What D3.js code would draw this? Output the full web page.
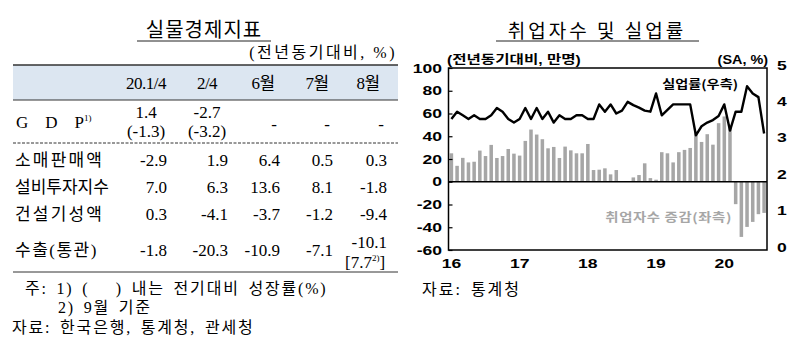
<!DOCTYPE html>
<html>
<head>
<meta charset="utf-8">
<script src="https://cdn.jsdelivr.net/npm/d3@7"></script>
<style>
  body { margin: 0; background: #fff; }
  svg { display: block; }
  text { white-space: pre; }
</style>
</head>
<body>
<div id="chart"></div>
<script>
// ---- table data (실물경제지표) ----
var colLabels = ["20.1/4", "2/4", "6월", "7월", "8월"];
var rowLabels = ["소매판매액", "설비투자지수", "건설기성액", "수출(통관)"];
var gdpValues = ["1.4", "-2.7", "-", "-", "-"];
var gdpQoQ = ["(-1.3)", "(-3.2)"];
var retailValues = ["-2.9", "1.9", "6.4", "0.5", "0.3"];
var facilityValues = ["7.0", "6.3", "13.6", "8.1", "-1.8"];
var constructionValues = ["0.3", "-4.1", "-3.7", "-1.2", "-9.4"];
var exportValues = ["-1.8", "-20.3", "-10.9", "-7.1", "-10.1"];

// ---- chart data (취업자수 및 실업률), 2016.1 ~ 2020.8 ----
var yearLabels = ["16", "17", "18", "19", "20"];
var employChange = [
  25, 14, 21, 17, 17.6, 27.4, 22.6, 32.4, 20.9, 22.6, 28.8, 24.7,
  23, 35.9, 45.9, 41.5, 37.4, 29.4, 30.6, 20.9, 30.9, 27.6, 25, 25,
  33.2, 10.3, 10.6, 11.8, 6.5, 10.3, 0.5, 0.3, 3.8, 5.9, 16.2, 3.2,
  1.8, 26, 25, 17, 26, 28, 29.7, 44, 35, 41.8, 32.6, 51.5,
  57.4, 49, -19.7, -48.5, -39.7, -35.3, -28.5, -27.4
];
var unemployRate = [
  3.6, 3.8, 3.7, 3.6, 3.7, 3.6, 3.6, 3.7, 3.9, 3.8, 3.6, 3.5,
  3.6, 3.9, 3.6, 3.9, 3.6, 3.8, 3.5, 3.7, 3.6, 3.6, 3.7, 3.7,
  3.6, 3.6, 4.0, 3.8, 4.0, 3.75, 3.83, 4.07, 3.98, 3.91, 3.83, 3.8,
  4.3, 3.7, 3.85, 4.0, 4.0, 4.0, 4.0, 3.15, 3.4, 3.5, 3.57, 3.68,
  4.0, 3.28, 3.8, 3.8, 4.5, 4.3, 4.2, 3.2
];
var leftTicks = [100, 80, 60, 40, 20, 0, -20, -40, -60];
var rightTicks = [5, 4, 3, 2, 1, 0];

var serif = "'Liberation Serif', 'Noto Sans CJK KR', serif";
var sans = "'Liberation Sans', 'Noto Sans CJK KR', sans-serif";
var kr = "'Noto Sans CJK KR', sans-serif";

var svg = d3.select("#chart").append("svg")
    .attr("width", 800)
    .attr("height", 344);

// text stretched horizontally like the scanned original
function wideText(g, x, y, sx, anchor, str) {
    return g.append("text")
        .attr("transform", "translate(" + x + "," + y + ") scale(" + sx + ",1)")
        .attr("text-anchor", anchor)
        .text(str);
}

// ================= LEFT: table =================
var table = svg.append("g");

table.append("text")
    .attr("x", 204).attr("y", 37)
    .attr("text-anchor", "middle")
    .style("font-family", kr).style("font-size", "20px")
    .style("letter-spacing", "1px")
    .text("실물경제지표");
table.append("line")
    .attr("x1", 137).attr("x2", 271).attr("y1", 41).attr("y2", 41)
    .attr("stroke", "#222").attr("stroke-width", 1);

table.append("text")
    .attr("x", 397).attr("y", 58)
    .attr("text-anchor", "end")
    .style("font-family", serif).style("font-size", "16px")
    .style("letter-spacing", "2.5px")
    .text("(전년동기대비, %)");

table.append("rect")
    .attr("x", 13).attr("y", 65).attr("width", 385).attr("height", 35)
    .attr("fill", "#dce6f1");
table.append("line")
    .attr("x1", 13).attr("x2", 398).attr("y1", 65).attr("y2", 65)
    .attr("stroke", "#333").attr("stroke-width", 1.5);
table.append("line")
    .attr("x1", 13).attr("x2", 398).attr("y1", 100).attr("y2", 100)
    .attr("stroke", "#333").attr("stroke-width", 1);

var headX = d3.scaleOrdinal().domain(colLabels).range([146, 207, 263, 317, 368]);
var colX = d3.scaleOrdinal().domain(d3.range(5)).range([167, 228, 280, 333, 387]);

table.selectAll(".head")
    .data(colLabels)
    .enter().append("text")
    .attr("x", function (d) { return headX(d); })
    .attr("y", 89)
    .attr("text-anchor", "middle")
    .style("font-family", serif).style("font-size", "17px")
    .style("letter-spacing", "-0.5px")
    .text(function (d) { return d; });

// GDP row
var gdpLabel = table.append("text")
    .attr("x", 16).attr("y", 128)
    .style("font-family", serif).style("font-size", "17px");
gdpLabel.append("tspan").text("G    D    P");
gdpLabel.append("tspan").attr("dy", -7).style("font-size", "9px").text("1)");

table.selectAll(".gdp")
    .data(gdpValues)
    .enter().append("text")
    .attr("x", function (d, i) { return i < 2 ? headX(colLabels[i]) : colX(i) - 3; })
    .attr("y", function (d, i) { return i < 2 ? 118 : 130; })
    .attr("text-anchor", function (d, i) { return i < 2 ? "middle" : "end"; })
    .style("font-family", serif).style("font-size", "17px")
    .text(function (d) { return d; });
table.selectAll(".gdpq")
    .data(gdpQoQ)
    .enter().append("text")
    .attr("x", function (d, i) { return headX(colLabels[i]); })
    .attr("y", 137)
    .attr("text-anchor", "middle")
    .style("font-family", serif).style("font-size", "17px")
    .text(function (d) { return d; });

table.append("line")
    .attr("x1", 13).attr("x2", 398).attr("y1", 143).attr("y2", 143)
    .attr("stroke", "#333").attr("stroke-width", 1)
    .attr("stroke-dasharray", "3,1.5");

var rows = [retailValues, facilityValues, constructionValues, exportValues];
var rowY = d3.scaleOrdinal().domain(rowLabels).range([166, 193, 220, 256]);
var rowSpacing = d3.scaleOrdinal().domain(rowLabels).range(["2.2px", "0px", "2.2px", "1.5px"]);

rowLabels.forEach(function (label, r) {
    table.append("text")
        .attr("x", 15).attr("y", rowY(label))
        .style("font-family", serif).style("font-size", "17px")
        .style("letter-spacing", rowSpacing(label))
        .text(label);
    table.selectAll(".row" + r)
        .data(rows[r])
        .enter().append("text")
        .attr("x", function (d, i) { return colX(i); })
        .attr("y", function (d, i) { return (r === 3 && i === 4) ? 248 : rowY(label); })
        .attr("text-anchor", "end")
        .style("font-family", serif).style("font-size", "17px")
        .text(function (d) { return d; });
});

var sept = table.append("text")
    .attr("x", 345).attr("y", 268)
    .style("font-family", serif).style("font-size", "17px");
sept.append("tspan").text("[7.7");
sept.append("tspan").attr("dy", -7).style("font-size", "9px").text("2)");
sept.append("tspan").attr("dy", 7).text("]");

table.append("line")
    .attr("x1", 13).attr("x2", 398).attr("y1", 272).attr("y2", 272)
    .attr("stroke", "#333").attr("stroke-width", 1);

var notes = table.append("g")
    .style("font-family", serif).style("font-size", "16px")
    .style("letter-spacing", "1.8px").style("word-spacing", "3px");
notes.append("text").attr("x", 25).attr("y", 294)
    .text("주: 1) (   ) 내는 전기대비 성장률(%)");
notes.append("text").attr("x", 58).attr("y", 313)
    .text("2) 9월 기준");
notes.append("text").attr("x", 12).attr("y", 333)
    .text("자료: 한국은행, 통계청, 관세청");

// ================= RIGHT: chart =================
var plot = { left: 448.5, right: 767, top: 68, bottom: 250 };
var months = d3.range(employChange.length);

var x = d3.scaleBand()
    .domain(months)
    .range([plot.left, plot.right])
    .paddingInner(0.38)
    .paddingOuter(0.2);
var yLeft = d3.scaleLinear().domain([-60, 100]).range([plot.bottom, plot.top]);
var yRight = d3.scaleLinear().domain([0, 5]).range([plot.bottom, plot.top]);

var chart = svg.append("g");

chart.append("text")
    .attr("x", 597).attr("y", 38)
    .attr("text-anchor", "middle")
    .style("font-family", kr).style("font-size", "19px")
    .style("letter-spacing", "3px")
    .text("취업자수 및 실업률");
chart.append("line")
    .attr("x1", 496).attr("x2", 699).attr("y1", 41).attr("y2", 41)
    .attr("stroke", "#222").attr("stroke-width", 1);

var bold = chart.append("g")
    .style("font-family", sans).style("font-size", "12px").style("font-weight", "bold");
wideText(bold, 447, 64, 1.3, "start", "(전년동기대비, 만명)");
wideText(bold, 768, 64, 1.2, "end", "(SA, %)");

// bars
chart.selectAll(".bar")
    .data(employChange)
    .enter().append("rect")
    .attr("class", "bar")
    .attr("x", function (d, i) { return x(i); })
    .attr("width", x.bandwidth())
    .attr("y", function (d) { return yLeft(Math.max(0, d)); })
    .attr("height", function (d) { return Math.abs(yLeft(d) - yLeft(0)); })
    .attr("fill", "#a6a6a6");

// zero line
chart.append("line")
    .attr("x1", plot.left).attr("x2", plot.right)
    .attr("y1", yLeft(0)).attr("y2", yLeft(0))
    .attr("stroke", "#000").attr("stroke-width", 1.5);

// unemployment line
var line = d3.line()
    .x(function (d, i) { return x(i) + x.bandwidth() / 2; })
    .y(function (d) { return yRight(d); });
chart.append("path")
    .datum(unemployRate)
    .attr("d", line)
    .attr("fill", "none")
    .attr("stroke", "#000")
    .attr("stroke-width", 2.4)
    .attr("stroke-linejoin", "round");

// frame
chart.append("rect")
    .attr("x", plot.left).attr("y", plot.top)
    .attr("width", plot.right - plot.left).attr("height", plot.bottom - plot.top)
    .attr("fill", "none").attr("stroke", "#000").attr("stroke-width", 1.5);

// left axis ticks (inside)
var axisL = chart.append("g")
    .attr("transform", "translate(" + plot.left + ",0)")
    .call(d3.axisRight(yLeft).tickValues(leftTicks).tickSize(4).tickFormat(""));
axisL.select(".domain").remove();
axisL.selectAll("line").attr("stroke", "#000").attr("stroke-width", 1.2);

var tickText = chart.append("g")
    .style("font-family", sans).style("font-size", "13px").style("font-weight", "bold");
leftTicks.forEach(function (d) {
    wideText(tickText, 442, yLeft(d) + 4.5, 1.35, "end", d);
});
rightTicks.forEach(function (d) {
    wideText(tickText, 777, yRight(d) + 1.5, 1.35, "start", d);
});
// x labels at January of each year
yearLabels.forEach(function (d, i) {
    wideText(tickText, x(i * 12) + x.bandwidth() / 2, 268, 1.35, "middle", d);
});

var lab = chart.append("g")
    .style("font-family", kr).style("font-size", "12px").style("font-weight", "bold");
wideText(lab, 738, 89, 1.18, "end", "실업률(우측)");
wideText(lab, 732, 222, 1.2, "end", "취업자수 증감(좌측)")
    .attr("fill", "#a6a6a6").style("letter-spacing", "0.5px");

chart.append("text")
    .attr("x", 422).attr("y", 295)
    .style("font-family", serif).style("font-size", "16px")
    .style("letter-spacing", "2px").style("word-spacing", "3px")
    .text("자료: 통계청");
</script>
</body>
</html>
